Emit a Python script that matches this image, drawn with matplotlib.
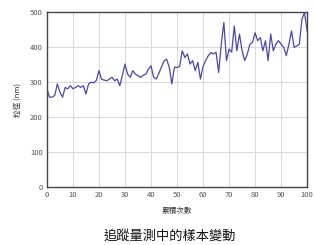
import matplotlib
matplotlib.use("Agg")
import matplotlib.pyplot as plt

plt.rcParams['font.family'] = ['Noto Sans CJK TC', 'DejaVu Sans']

runs = list(range(0, 101))
size_nm = [281, 257, 257, 262, 295, 271, 257, 285, 281, 290,
           281, 285, 290, 285, 290, 266, 295, 300, 298, 305,
           333, 308, 306, 304, 309, 314, 304, 309, 290, 320,
           352, 323, 314, 333, 323, 319, 314, 320, 323, 337,
           347, 314, 309, 325, 343, 361, 366, 343, 295, 343,
           342, 345, 390, 371, 381, 352, 362, 333, 357, 309,
           345, 362, 376, 385, 381, 386, 328, 409, 471, 362,
           395, 386, 461, 390, 438, 390, 362, 381, 409, 414,
           442, 419, 428, 390, 419, 362, 438, 390, 409, 419,
           409, 400, 376, 409, 447, 400, 404, 409, 481, 500,
           447]
xticks = [0, 10, 20, 30, 40, 50, 60, 70, 80, 90, 100]
yticks = [0, 100, 200, 300, 400, 500]
xlabel = "累積次數"
ylabel = "粒徑 (nm)"
caption = "追蹤量測中的樣本變動"

fig = plt.figure(figsize=(3.15, 2.45), dpi=100)
ax = fig.add_axes([0.149, 0.238, 0.826, 0.711])
ax.plot(runs, size_nm, color='#4a46b0', lw=0.9)
ax.set_xlim(0, 100)
ax.set_ylim(0, 500)
ax.set_xticks(xticks)
ax.set_yticks(yticks)
ax.grid(True, color='#d8d8d8', lw=0.7)
ax.set_axisbelow(True)
ax.tick_params(length=0, labelsize=5.5, labelcolor='#555555', pad=3)
for s in ax.spines.values():
    s.set_color('#444444')
    s.set_linewidth(1.0)
ax.set_xlabel(xlabel, fontsize=5.5, color='#333333', labelpad=6)
ax.set_ylabel(ylabel, fontsize=5.5, color='#333333', labelpad=6)
fig.text(0.54, 0.035, caption, fontsize=9.5, color='#111111', ha='center', va='center')
fig.savefig('out.png', dpi=100)
